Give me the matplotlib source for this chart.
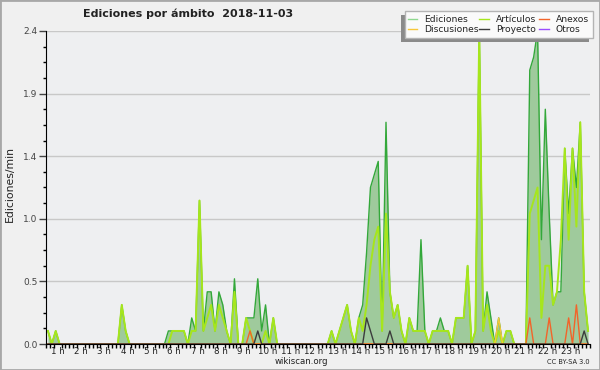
import matplotlib

matplotlib.use("Agg")

import matplotlib.pyplot as plt
import numpy as np
from matplotlib.lines import Line2D
from matplotlib.patches import Rectangle

# 10-minute bins, edits per minute
ediciones = [
    0.1, 0.0, 0.1, 0.0, 0.0, 0.0, 0.0, 0.0, 0.0, 0.0,
    0.0, 0.0, 0.0, 0.0, 0.0, 0.0, 0.0, 0.0, 0.0, 0.3,
    0.1, 0.0, 0.0, 0.0, 0.0, 0.0, 0.0, 0.0, 0.0, 0.0,
    0.0, 0.1, 0.1, 0.1, 0.1, 0.1, 0.0, 0.2, 0.1, 1.1,
    0.1, 0.4, 0.4, 0.1, 0.4, 0.3, 0.1, 0.0, 0.5, 0.0,
    0.0, 0.2, 0.2, 0.2, 0.5, 0.1, 0.3, 0.0, 0.2, 0.0,
    0.0, 0.0, 0.0, 0.0, 0.0, 0.0, 0.0, 0.0, 0.0, 0.0,
    0.0, 0.0, 0.0, 0.1, 0.0, 0.1, 0.2, 0.3, 0.1, 0.0,
    0.2, 0.3, 0.7, 1.2, 1.3, 1.4, 0.1, 1.7, 0.4, 0.2,
    0.3, 0.1, 0.0, 0.2, 0.1, 0.1, 0.8, 0.1, 0.0, 0.1,
    0.1, 0.2, 0.1, 0.1, 0.0, 0.2, 0.2, 0.2, 0.6, 0.0,
    0.1, 2.4, 0.1, 0.4, 0.2, 0.0, 0.2, 0.0, 0.1, 0.1,
    0.0, 0.0, 0.0, 0.0, 2.1, 2.2, 2.4, 0.8, 1.8, 1.0,
    0.3, 0.4, 0.4, 1.5, 1.0, 1.5, 1.2, 1.7, 0.4, 0.1,
]
articulos = [
    0.1, 0.0, 0.1, 0.0, 0.0, 0.0, 0.0, 0.0, 0.0, 0.0,
    0.0, 0.0, 0.0, 0.0, 0.0, 0.0, 0.0, 0.0, 0.0, 0.3,
    0.1, 0.0, 0.0, 0.0, 0.0, 0.0, 0.0, 0.0, 0.0, 0.0,
    0.0, 0.0, 0.1, 0.1, 0.1, 0.1, 0.0, 0.1, 0.1, 1.1,
    0.1, 0.2, 0.3, 0.1, 0.3, 0.2, 0.1, 0.0, 0.4, 0.0,
    0.0, 0.2, 0.1, 0.0, 0.0, 0.0, 0.1, 0.0, 0.2, 0.0,
    0.0, 0.0, 0.0, 0.0, 0.0, 0.0, 0.0, 0.0, 0.0, 0.0,
    0.0, 0.0, 0.0, 0.1, 0.0, 0.1, 0.2, 0.3, 0.1, 0.0,
    0.2, 0.1, 0.3, 0.6, 0.8, 0.9, 0.1, 1.0, 0.4, 0.2,
    0.3, 0.1, 0.0, 0.2, 0.1, 0.1, 0.1, 0.1, 0.0, 0.1,
    0.1, 0.1, 0.1, 0.1, 0.0, 0.2, 0.2, 0.2, 0.6, 0.0,
    0.1, 2.4, 0.1, 0.3, 0.1, 0.0, 0.1, 0.0, 0.1, 0.1,
    0.0, 0.0, 0.0, 0.0, 1.0, 1.1, 1.2, 0.2, 0.6, 0.6,
    0.3, 0.4, 0.8, 1.5, 0.8, 1.5, 0.9, 1.7, 0.4, 0.1,
]
anexos = [0.0] * 140
for i, v in [(52, 0.1), (124, 0.2), (129, 0.2), (134, 0.2), (136, 0.3)]:
    anexos[i] = v
proyecto = [0.0] * 140
for i, v in [(54, 0.1), (82, 0.2), (83, 0.1), (88, 0.1), (138, 0.1)]:
    proyecto[i] = v
discusiones = [0.0] * 140
discusiones[116] = 0.2
otros = [0.0] * 140

hour_labels = [f"{h} h" for h in range(1, 24)]
legend_names = ["Ediciones", "Artículos", "Anexos", "Discusiones", "Proyecto", "Otros"]

FILL = "#9fca9c"
C_ED = "#33a83a"
C_ART = "#a6e61c"
C_ANX = "#f2642a"
C_DIS = "#f7c73a"
C_PRO = "#3c3c3c"
C_OTR = "#9b4dff"
TXT = "#222222"
legend_colors = ["#8fd88f", C_ART, C_ANX, C_DIS, C_PRO, C_OTR]


def fx(px):
    return px / 600


def fy(py):
    return 1 - py / 370


x = np.arange(len(ediciones))

fig = plt.figure(figsize=(6, 3.7), dpi=100)
fig.patch.set_facecolor("#f0f0f0")
ax = fig.add_axes([fx(46), fy(344), 544 / 600, 313 / 370])
ax.set_facecolor("#eeeff1")

ax.fill_between(x, 0, ediciones, color=FILL, lw=0, zorder=2)
ax.plot(x, ediciones, color=C_ED, lw=1.0, zorder=3)
ax.plot(x, articulos, color=C_ART, lw=1.4, zorder=4)
ax.plot(x, discusiones, color=C_DIS, lw=1.0, zorder=5)
ax.plot(x, anexos, color=C_ANX, lw=1.0, zorder=5)
ax.plot(x, proyecto, color=C_PRO, lw=1.0, zorder=5)

ax.set_xlim(-0.5, len(ediciones) - 0.5)
ax.set_ylim(0, 2.4)

yt = np.linspace(0, 2.4, 6)
ax.set_yticks(yt)
ax.set_yticklabels([f"{v:.1f}" for v in yt])
ax.set_yticks(np.linspace(0, 2.4, 21), minor=True)
for v in yt[1:]:
    ax.axhline(v, color="#c8c8c8", lw=1, zorder=1)

ax.set_xticks([6 * h - 3.5 for h in range(1, 24)])
ax.set_xticklabels(hour_labels)
ax.set_xticks(np.arange(-0.5, len(ediciones)), minor=True)

ax.tick_params(axis="y", which="major", length=5, width=1, labelsize=6.5,
               colors="#444444", pad=1)
ax.tick_params(axis="y", which="minor", length=2.5, width=1)
ax.tick_params(axis="x", which="major", length=0, labelsize=6.3, colors=TXT, pad=2.5)
ax.tick_params(axis="x", which="minor", length=3, width=1)
for t in ax.get_yticklabels():
    t.set_color("#444444")

for s in ["top", "right"]:
    ax.spines[s].set_visible(False)
for s in ["left", "bottom"]:
    ax.spines[s].set_color("black")
    ax.spines[s].set_zorder(6)

fig.text(fx(188.5), fy(14), "Ediciones por ámbito  2018-11-03", ha="center", va="center",
         fontsize=8, fontweight="bold", color=TXT)
fig.text(fx(10), fy(184), "Ediciones/min", rotation=90, ha="center", va="center",
         fontsize=7.8, color=TXT)
fig.text(fx(301), fy(361), "wikiscan.org", ha="center", va="center",
         fontsize=6.2, color=TXT)
fig.text(fx(590), fy(362), "CC BY-SA 3.0", ha="right", va="center",
         fontsize=4.8, color=TXT)

# legend drawn by hand: shadow, box, swatches, labels
fig.patches.append(Rectangle((fx(401), fy(42)), fx(589) - fx(401), fy(15) - fy(42),
                             transform=fig.transFigure, facecolor="#8a8a8a",
                             edgecolor="none", zorder=10))
fig.patches.append(Rectangle((fx(405), fy(38)), fx(593) - fx(405), fy(11) - fy(38),
                             transform=fig.transFigure, facecolor="#fafafa",
                             edgecolor="#b4b4b4", lw=1, zorder=11))
col_sw = [(408, 417), (479, 489), (539, 549)]
col_tx = [424, 496, 556]
row_y = [19, 29]
for k, (name, color) in enumerate(zip(legend_names, legend_colors)):
    r, c = divmod(k, 3)
    x0, x1 = col_sw[c]
    fig.lines.append(Line2D([fx(x0), fx(x1)], [fy(row_y[r]), fy(row_y[r])],
                            transform=fig.transFigure, color=color, lw=1, zorder=12))
    fig.text(fx(col_tx[c]), fy(row_y[r]), name, ha="left", va="center",
             fontsize=6.6, color=TXT, zorder=12)

fig.patches.append(Rectangle((0, 0), 1, 1, transform=fig.transFigure,
                             fill=False, edgecolor="#a8a8a8", lw=2))

fig.savefig("out.png", dpi=100)
